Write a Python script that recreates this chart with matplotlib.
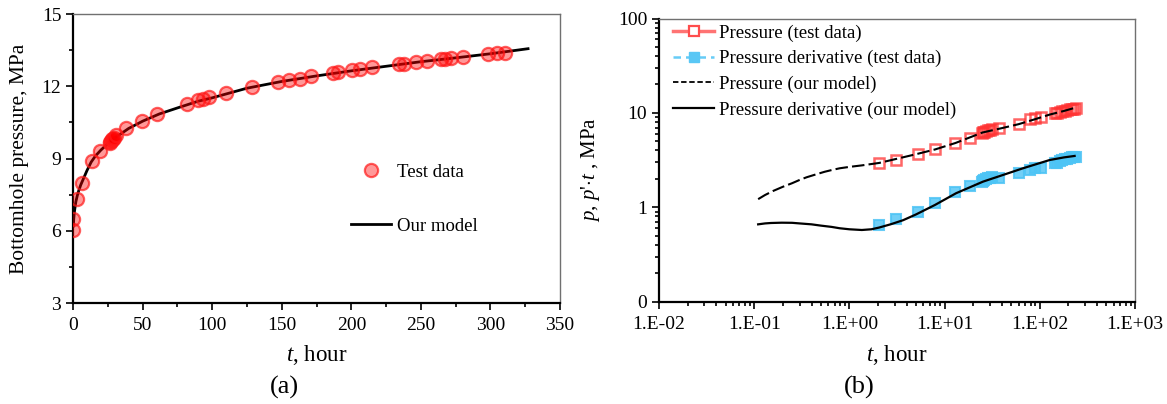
import numpy as np
import matplotlib
matplotlib.use("Agg")
import matplotlib.pyplot as plt
from matplotlib.lines import Line2D
from matplotlib.ticker import MultipleLocator, LogLocator, FuncFormatter, NullFormatter

plt.rcParams['font.family'] = ['Liberation Serif', 'DejaVu Serif']
plt.rcParams['mathtext.fontset'] = 'custom'
plt.rcParams['mathtext.rm'] = 'Liberation Serif'
plt.rcParams['mathtext.it'] = 'Liberation Serif:italic'

# (a) bottomhole pressure vs time
t_test = [0.2, 0.2, 2.6, 6.2, 13.4, 19.4, 26.3, 26.8, 27.3, 27.8, 28.3, 28.8, 29.3, 31.0,
          38.0, 49.4, 60.6, 81.7, 89.9, 93.7, 97.5, 109.8, 128.7, 147.0, 155.5, 163.0,
          171.0, 186.7, 190.7, 200.8, 206.3, 214.7, 234.4, 237.5, 246.4, 254.5, 264.8,
          267.0, 271.5, 279.9, 298.0, 305.0, 310.6]
p_test = [6.02, 6.49, 7.33, 8.0, 8.9, 9.32, 9.66, 9.70, 9.73, 9.76, 9.79, 9.82, 9.85, 9.98,
          10.28, 10.56, 10.86, 11.26, 11.43, 11.48, 11.55, 11.73, 11.96, 12.18, 12.26, 12.31,
          12.41, 12.55, 12.58, 12.66, 12.70, 12.79, 12.91, 12.93, 13.0, 13.05, 13.12,
          13.13, 13.16, 13.21, 13.33, 13.38, 13.39]
t_model = [0.2, 0.5, 1, 2, 3, 4, 5.5, 7, 10, 13, 16, 20, 25, 30, 40, 50, 62, 75, 90, 100,
           125, 150, 175, 200, 225, 250, 275, 300, 327]
p_model = [6.2, 6.5, 6.8, 7.2, 7.45, 7.65, 7.9, 8.1, 8.5, 8.85, 9.1, 9.35, 9.62, 9.85,
           10.25, 10.55, 10.85, 11.1, 11.38, 11.52, 11.92, 12.2, 12.43, 12.64, 12.83,
           13.02, 13.18, 13.35, 13.56]

# (b) log-log diagnostic plot
t_log = [2.05, 3.07, 5.26, 7.93, 12.9, 18.7, 24.5, 25.3, 26.2, 27.0, 28.5, 30.0, 31.7, 37.2,
         60.0, 78.2, 88.2, 104, 143, 150, 161, 172, 182, 193, 205, 218, 230, 241]
p_log = [2.92, 3.17, 3.67, 4.15, 4.83, 5.46, 6.10, 6.25, 6.35, 6.45, 6.59, 6.65, 6.70, 6.87,
         7.57, 8.55, 8.77, 9.12, 9.91, 10.0, 10.3, 10.4, 10.5, 10.7, 10.9, 11.0, 11.1, 11.2]
dp_log = [0.65, 0.75, 0.90, 1.10, 1.46, 1.70, 1.85, 1.90, 1.95, 1.98, 2.02, 2.05, 2.07, 2.03,
          2.29, 2.51, 2.64, 2.63, 2.92, 2.98, 3.09, 3.15, 3.21, 3.27, 3.33, 3.38, 3.42, 3.45]
t_mp = [0.11, 0.13, 0.158, 0.2, 0.25, 0.3, 0.355, 0.45, 0.55, 0.65, 0.79, 1.0, 1.35, 2.05,
        3.5, 5.0, 7.93, 13, 25, 40, 60, 90, 127, 180, 232]
p_mp = [1.22, 1.35, 1.49, 1.65, 1.80, 1.95, 2.08, 2.24, 2.38, 2.48, 2.59, 2.68, 2.78, 2.95,
        3.35, 3.65, 4.1, 4.8, 6.2, 6.9, 7.6, 8.6, 9.6, 10.5, 11.3]
t_md = [0.11, 0.13, 0.15, 0.194, 0.25, 0.3, 0.4, 0.5, 0.65, 0.79, 1.0, 1.35, 1.7, 2.05, 2.7,
        3.66, 5.0, 7.93, 13.2, 25.3, 41, 66.5, 127, 180, 232]
dp_md = [0.66, 0.675, 0.682, 0.687, 0.685, 0.675, 0.66, 0.64, 0.62, 0.60, 0.585, 0.575,
         0.585, 0.61, 0.66, 0.73, 0.84, 1.06, 1.41, 1.87, 2.2, 2.59, 3.17, 3.38, 3.5]

fig = plt.figure(figsize=(11.67, 4.04), dpi=100)
ax1 = fig.add_axes([0.0626, 0.25, 0.4173, 0.7153])
ax2 = fig.add_axes([0.5647, 0.2532, 0.4079, 0.701])

for ax in (ax1, ax2):
    ax.spines['left'].set_linewidth(1.6)
    ax.spines['bottom'].set_linewidth(1.6)
    ax.spines['top'].set_color('#707070')
    ax.spines['right'].set_color('#707070')
    ax.spines['top'].set_linewidth(1.0)
    ax.spines['right'].set_linewidth(1.0)
    ax.tick_params(which='both', direction='out', top=False, right=False,
                   width=1.2, labelsize=14, colors='black')
    ax.tick_params(which='major', length=5)
    ax.tick_params(which='minor', length=3)
    ax.tick_params(axis='x', which='major', pad=5)

# --- panel (a)
ax1.plot(t_model, p_model, color='black', lw=2, label='Our model', zorder=2)
ax1.plot(t_test, p_test, 'o', ms=9.5, mfc=(1, 0, 0, 0.4), mec=(1, 0.1, 0.1, 0.7),
         mew=1.6, label='Test data', zorder=3)
ax1.set_xlim(0, 350)
ax1.set_ylim(3, 15)
ax1.xaxis.set_major_locator(MultipleLocator(50))
ax1.xaxis.set_minor_locator(MultipleLocator(25))
ax1.yaxis.set_major_locator(MultipleLocator(3))
ax1.yaxis.set_minor_locator(MultipleLocator(1.5))
ax1.set_xlabel('$t$, hour', fontsize=16.5)
ax1.xaxis.label.set_va('center')
ax1.xaxis.set_label_coords(0.5, -0.18)
ax1.set_ylabel('Bottomhole pressure, MPa', fontsize=15.5)
ax1.yaxis.label.set_va('center')
ax1.yaxis.set_label_coords(-0.109, 0.5)
h, l = ax1.get_legend_handles_labels()
ax1.legend([h[1], h[0]], [l[1], l[0]], loc='center left', bbox_to_anchor=(0.2931, 0.507),
           bbox_transform=fig.transFigure, frameon=False, fontsize=13.5, borderpad=0,
           handlelength=2.1, handletextpad=0.35, labelspacing=1.95)

# --- panel (b)
ax2.set_xscale('log')
ax2.set_yscale('log')
ax2.plot(t_mp, p_mp, color='black', lw=1.5, ls=(0, (6, 2)), zorder=3)
ax2.plot(t_md, dp_md, color='black', lw=1.6, zorder=3)
ax2.plot(t_log, p_log, 's', ms=7, mfc='none', mec=(1, 0.2, 0.2, 0.75), mew=1.8, zorder=2)
ax2.plot(t_log, dp_log, 's', ms=7, mfc=(0.3, 0.77, 0.96, 0.8), mec=(0.3, 0.77, 0.96, 0.85),
         mew=1.5, zorder=2)
ax2.set_xlim(0.01, 1000)
ax2.set_ylim(0.1, 100)
ax2.xaxis.set_major_locator(LogLocator(base=10, numticks=10))
ax2.xaxis.set_minor_locator(LogLocator(base=10, subs=np.arange(2, 10), numticks=10))
ax2.xaxis.set_minor_formatter(NullFormatter())
ax2.xaxis.set_major_formatter(FuncFormatter(lambda v, pos: '1.E%+03d' % int(round(np.log10(v)))))
ax2.yaxis.set_major_locator(LogLocator(base=10, numticks=10))
ax2.yaxis.set_minor_locator(LogLocator(base=10, subs=np.arange(2, 10), numticks=10))
ax2.yaxis.set_minor_formatter(NullFormatter())
ax2.yaxis.set_major_formatter(FuncFormatter(lambda v, pos: '0' if v < 0.5 else '%g' % v))
ax2.set_xlabel('$t$, hour', fontsize=16.5)
ax2.xaxis.label.set_va('center')
ax2.xaxis.set_label_coords(0.5, -0.188)
ax2.set_ylabel("$p$, $p$'$\\cdot$$t$ , MPa", fontsize=15)
ax2.yaxis.label.set_va('center')
ax2.yaxis.set_label_coords(-0.143, 0.465)

handles = [
    Line2D([], [], color=(1, 0.45, 0.45), lw=2.5, marker='s', ms=7, mfc='white',
           mec=(1, 0.3, 0.3), mew=1.6),
    Line2D([], [], color=(0.4, 0.8, 0.97), lw=1.8, ls=(0, (3, 2)), marker='s', ms=7,
           mfc=(0.35, 0.78, 0.96), mec=(0.35, 0.78, 0.96)),
    Line2D([], [], color='black', lw=1.3, ls=(0, (3, 1.5))),
    Line2D([], [], color='black', lw=1.6),
]
labels = ['Pressure (test data)', 'Pressure derivative (test data)',
          'Pressure (our model)', 'Pressure derivative (our model)']
ax2.legend(handles, labels, loc='center left', bbox_to_anchor=(0.5690, 0.823),
           bbox_transform=fig.transFigure, frameon=False, fontsize=13.5, borderpad=0,
           handlelength=2.15, handletextpad=0.3, labelspacing=0.45)

fig.text(284 / 1167, 1 - 387 / 404, '(a)', fontsize=19, ha='center', va='center')
fig.text(859 / 1167, 1 - 387 / 404, '(b)', fontsize=19, ha='center', va='center')

fig.savefig('out.png', dpi=100)
